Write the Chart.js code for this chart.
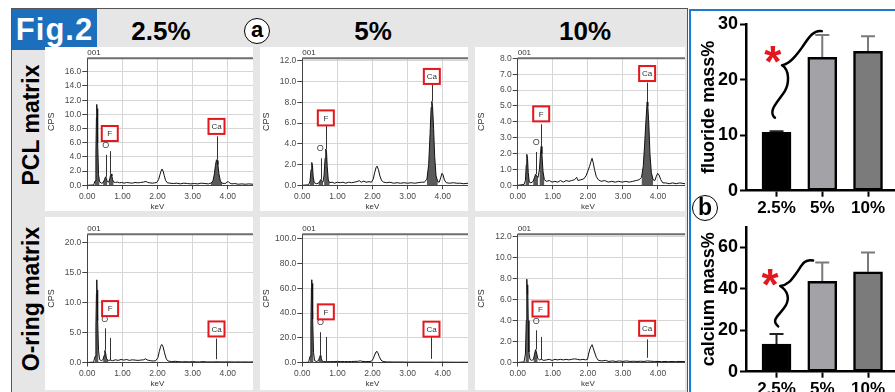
<!DOCTYPE html>
<html><head><meta charset="utf-8">
<script src="https://cdn.jsdelivr.net/npm/chart.js@4.4.1/dist/chart.umd.min.js"></script>
<style>
html,body{margin:0;padding:0;background:#fff;}
#root{position:relative;width:895px;height:392px;overflow:hidden;font-family:"Liberation Sans",Arial,sans-serif;}
.abs{position:absolute;box-sizing:border-box;}
canvas{position:absolute;display:block;}
.t{position:absolute;transform:translate(-50%,-50%);white-space:nowrap;font-weight:bold;color:#000;line-height:1;}
.circ{position:absolute;box-sizing:border-box;border:1.5px solid #000;border-radius:50%;background:#fff;text-align:center;font-weight:bold;color:#000;}
</style></head><body><div id="root">
<div class="abs" style="left:11px;top:8px;width:677px;height:400px;background:#e6e6e6;border:1.5px solid #555;border-bottom:none;"></div>
<div class="abs" style="left:689px;top:9px;width:230px;height:400px;background:#fff;border:2px solid #1f7bd1;"></div>
<div class="abs" style="left:12px;top:9px;width:85px;height:41px;background:#1b6fbd;color:#fff;font-weight:bold;font-size:31px;letter-spacing:1px;text-align:center;line-height:41px;">Fig.2</div>
<div class="t" style="left:161px;top:31px;font-size:26px;">2.5%</div>
<div class="t" style="left:373px;top:31px;font-size:26px;">5%</div>
<div class="t" style="left:585px;top:31px;font-size:26px;">10%</div>
<div class="circ" style="left:244px;top:18px;width:26px;height:26px;font-size:22px;line-height:21px;">a</div>
<div class="t" style="left:31px;top:125px;font-size:23px;transform:translate(-50%,-50%) rotate(-90deg);">PCL matrix</div>
<div class="t" style="left:31px;top:299px;font-size:23px;transform:translate(-50%,-50%) rotate(-90deg);">O-ring matrix</div>

<canvas id="s1" width="208" height="164" style="left:45px;top:47px;background:#fff"></canvas>
<canvas id="s2" width="208" height="164" style="left:260px;top:47px;background:#fff"></canvas>
<canvas id="s3" width="210" height="164" style="left:475px;top:47px;background:#fff"></canvas>
<canvas id="s4" width="208" height="173" style="left:45px;top:217px;background:#fff"></canvas>
<canvas id="s5" width="208" height="173" style="left:260px;top:217px;background:#fff"></canvas>
<canvas id="s6" width="210" height="173" style="left:475px;top:217px;background:#fff"></canvas>

<canvas id="bF" width="203" height="205" style="left:692px;top:11px;"></canvas>
<canvas id="bC" width="203" height="190" style="left:692px;top:214px;"></canvas>
<div class="circ" style="left:692px;top:195px;width:26px;height:26px;font-size:23px;line-height:22px;">b</div>
</div>
<script>
// ---------- DATA ----------
// EDS spectra: [keV, CPS]
const pcl25 = [[0,0],[0.18,0.05],[0.22,0.6],[0.245,4.5],[0.26,9.5],[0.27,11.4],[0.28,10.2],[0.29,10.8],[0.30,6.0],[0.32,1.5],[0.35,0.5],[0.40,0.3],[0.45,0.35],[0.49,0.8],[0.51,1.1],[0.525,1.2],[0.545,0.9],[0.57,0.5],[0.61,0.45],[0.64,0.9],[0.66,1.4],[0.68,1.6],[0.70,1.3],[0.72,0.8],[0.75,0.45],[0.80,0.4],[0.86,0.45],[0.92,0.35],[0.98,0.4],[1.05,0.3],[1.12,0.4],[1.20,0.35],[1.28,0.3],[1.36,0.4],[1.44,0.35],[1.52,0.4],[1.60,0.45],[1.67,0.55],[1.72,0.4],[1.78,0.35],[1.85,0.3],[1.92,0.35],[1.98,0.4],[2.03,0.8],[2.07,1.5],[2.10,2.0],[2.13,2.3],[2.16,2.0],[2.19,1.4],[2.23,0.7],[2.28,0.35],[2.35,0.3],[2.45,0.25],[2.55,0.3],[2.65,0.2],[2.75,0.3],[2.85,0.25],[2.95,0.2],[3.05,0.25],[3.15,0.2],[3.25,0.3],[3.35,0.25],[3.45,0.2],[3.52,0.3],[3.58,0.6],[3.62,1.6],[3.65,2.8],[3.68,3.6],[3.70,3.5],[3.72,2.9],[3.75,1.6],[3.79,0.6],[3.84,0.3],[3.90,0.25],[3.95,0.3],[3.99,0.5],[4.02,0.5],[4.06,0.3],[4.12,0.2],[4.20,0.25],[4.30,0.15],[4.40,0.2],[4.50,0.15],[4.60,0.2],[4.72,0.15]];
const pcl5 = [[0,0],[0.18,0.05],[0.22,0.4],[0.25,1.5],[0.27,2.2],[0.29,1.9],[0.31,0.8],[0.34,0.25],[0.40,0.15],[0.46,0.2],[0.50,0.4],[0.525,0.55],[0.55,0.4],[0.59,0.3],[0.62,1.0],[0.65,2.6],[0.67,3.5],[0.69,3.2],[0.71,1.8],[0.74,0.5],[0.78,0.25],[0.85,0.3],[0.92,0.2],[1.0,0.3],[1.08,0.25],[1.16,0.3],[1.24,0.2],[1.32,0.3],[1.4,0.25],[1.48,0.3],[1.56,0.35],[1.62,0.45],[1.68,0.3],[1.75,0.4],[1.82,0.3],[1.9,0.35],[1.97,0.3],[2.02,0.6],[2.06,1.2],[2.10,1.7],[2.13,1.85],[2.17,1.5],[2.21,0.9],[2.26,0.45],[2.32,0.3],[2.4,0.25],[2.5,0.3],[2.6,0.2],[2.7,0.25],[2.8,0.2],[2.9,0.25],[3.0,0.2],[3.1,0.25],[3.2,0.2],[3.3,0.25],[3.4,0.3],[3.48,0.3],[3.55,0.6],[3.6,2.0],[3.64,5.0],[3.67,7.5],[3.69,8.1],[3.71,7.6],[3.74,5.5],[3.77,2.8],[3.81,0.9],[3.86,0.35],[3.9,0.3],[3.94,0.7],[3.98,1.15],[4.01,1.0],[4.05,0.5],[4.1,0.25],[4.2,0.2],[4.3,0.25],[4.4,0.2],[4.5,0.2],[4.6,0.15],[4.72,0.2]];
const pcl10 = [[0,0],[0.18,0.05],[0.22,0.3],[0.245,1.3],[0.26,1.95],[0.28,1.7],[0.30,0.8],[0.33,0.2],[0.38,0.15],[0.44,0.25],[0.48,0.5],[0.51,0.7],[0.54,0.6],[0.58,0.5],[0.62,1.0],[0.65,2.0],[0.67,2.45],[0.69,2.0],[0.72,0.9],[0.76,0.35],[0.82,0.25],[0.9,0.3],[0.98,0.2],[1.06,0.25],[1.14,0.2],[1.22,0.3],[1.3,0.2],[1.38,0.3],[1.46,0.25],[1.54,0.3],[1.62,0.35],[1.68,0.5],[1.72,0.3],[1.8,0.35],[1.88,0.4],[1.95,0.6],[2.0,0.9],[2.05,1.2],[2.09,1.5],[2.12,1.7],[2.15,1.45],[2.19,1.0],[2.24,0.55],[2.3,0.35],[2.38,0.25],[2.48,0.3],[2.58,0.2],[2.68,0.25],[2.78,0.2],[2.88,0.25],[2.98,0.2],[3.08,0.25],[3.18,0.2],[3.28,0.25],[3.38,0.3],[3.46,0.35],[3.53,0.5],[3.58,1.2],[3.62,2.6],[3.66,4.2],[3.69,5.25],[3.71,5.0],[3.74,3.8],[3.77,2.0],[3.81,0.8],[3.86,0.35],[3.91,0.3],[3.95,0.55],[3.99,0.75],[4.03,0.65],[4.08,0.35],[4.14,0.15],[4.22,0.15],[4.32,0.1],[4.42,0.15],[4.52,0.1],[4.62,0.15],[4.77,0.1]];
const oring25 = [[0,0],[0.18,0.05],[0.22,1.0],[0.245,6.0],[0.26,11.5],[0.27,13.8],[0.28,11.0],[0.29,12.1],[0.30,7.0],[0.32,2.0],[0.35,0.5],[0.40,0.3],[0.45,0.5],[0.48,1.2],[0.50,2.0],[0.52,1.6],[0.55,0.6],[0.6,0.35],[0.66,0.4],[0.72,0.3],[0.8,0.45],[0.88,0.35],[0.96,0.5],[1.04,0.4],[1.12,0.5],[1.2,0.35],[1.28,0.45],[1.36,0.4],[1.44,0.35],[1.52,0.4],[1.6,0.45],[1.66,0.6],[1.72,0.4],[1.8,0.3],[1.88,0.25],[1.95,0.3],[2.01,0.8],[2.05,1.8],[2.09,2.7],[2.12,3.0],[2.16,2.6],[2.2,1.6],[2.25,0.6],[2.3,0.25],[2.4,0.15],[2.5,0.2],[2.6,0.15],[2.7,0.1],[2.8,0.15],[2.9,0.1],[3.0,0.15],[3.1,0.1],[3.2,0.1],[3.3,0.15],[3.4,0.1],[3.5,0.1],[3.6,0.1],[3.7,0.12],[3.8,0.1],[3.9,0.1],[4.0,0.1],[4.1,0.1],[4.2,0.08],[4.3,0.1],[4.4,0.08],[4.5,0.1],[4.6,0.08],[4.72,0.1]];
const oring5 = [[0,0],[0.18,0.2],[0.22,5],[0.245,30],[0.26,60],[0.27,67],[0.28,55],[0.29,64],[0.30,35],[0.32,8],[0.35,1.5],[0.40,0.8],[0.46,1.5],[0.49,4],[0.51,5.6],[0.53,4.5],[0.56,1.5],[0.6,0.8],[0.7,0.6],[0.8,0.8],[0.9,0.7],[1.0,0.9],[1.1,0.7],[1.2,0.8],[1.3,0.7],[1.4,0.8],[1.5,0.9],[1.6,1.0],[1.65,1.4],[1.7,0.9],[1.8,0.8],[1.9,0.7],[1.97,1.0],[2.02,3],[2.06,6],[2.1,8.5],[2.12,9.1],[2.15,8.0],[2.19,5],[2.24,2],[2.3,0.8],[2.4,0.5],[2.6,0.4],[2.8,0.4],[3.0,0.3],[3.2,0.3],[3.4,0.3],[3.6,0.3],[3.8,0.25],[4.0,0.3],[4.2,0.25],[4.4,0.2],[4.6,0.25],[4.72,0.2]];
const oring10 = [[0,0],[0.18,0.05],[0.22,0.8],[0.245,4.0],[0.26,7.94],[0.275,6.5],[0.285,7.4],[0.30,4.0],[0.32,1.0],[0.35,0.3],[0.40,0.2],[0.45,0.3],[0.48,0.8],[0.51,1.23],[0.54,0.9],[0.57,0.4],[0.62,0.25],[0.68,0.3],[0.74,0.2],[0.82,0.25],[0.9,0.3],[0.98,0.2],[1.06,0.3],[1.14,0.25],[1.22,0.3],[1.3,0.25],[1.38,0.3],[1.46,0.25],[1.54,0.3],[1.62,0.35],[1.7,0.3],[1.78,0.25],[1.86,0.3],[1.94,0.25],[1.99,0.3],[2.02,0.8],[2.06,1.3],[2.1,1.6],[2.12,1.7],[2.15,1.4],[2.19,1.0],[2.24,0.5],[2.3,0.2],[2.4,0.15],[2.5,0.2],[2.6,0.1],[2.7,0.15],[2.8,0.1],[2.9,0.15],[3.0,0.1],[3.1,0.15],[3.2,0.1],[3.3,0.12],[3.4,0.1],[3.5,0.12],[3.6,0.1],[3.7,0.15],[3.8,0.12],[3.9,0.1],[4.0,0.1],[4.1,0.08],[4.2,0.1],[4.3,0.08],[4.4,0.1],[4.5,0.08],[4.6,0.1],[4.77,0.08]];
// identified-peak keV ranges (shaded)
const pclPeaks = [[0.2,0.36],[0.44,0.6],[0.6,0.78],[3.5,3.88]];
const oringPeaks = [[0.2,0.34],[0.44,0.6]];
// y-axis ranges / tick steps
const spectraYMax = [17.9, 12.25, 8.0, 21.4, 103.8, 12.22];
const spectraYStep = [2, 2, 1, 5, 20, 2];
const spectraXMax = [4.72, 4.72, 4.77, 4.72, 4.72, 4.77];
// Panel b
const groups = ['2.5%', '5%', '10%'];
const fluoride = [10.5, 24.0, 25.1];
const fluorideErr = [0.2, 4.0, 2.7];
const calcium = [13.3, 43.7, 48.3];
const calciumErr = [4.9, 9.1, 9.3];

// ---------- ANNOTATION PLACEMENT (keV, CPS): [lineX, lineTop, lineBottom, labelX, labelY] ----------
const marks = [
  {o:[0.525,4.3,1.2,0.525,5.6], f:[0.66,4.8,1.6,0.64,7.3], ca:[3.69,6.9,3.6,3.68,8.3]},
  {o:[0.53,2.6,0.55,0.51,3.57], f:[0.67,5.75,3.5,0.67,6.5], ca:[3.69,9.7,8.1,3.69,10.5]},
  {o:[0.53,2.1,0.7,0.53,2.7], f:[0.67,3.84,2.45,0.67,4.5], ca:[3.69,6.47,5.25,3.69,7.04]},
  {o:[0.50,5.7,2.0,0.50,7.2], f:[0.65,4.1,0.4,0.65,9.0], ca:[3.68,4.0,0.55,3.68,5.6]},
  {o:[0.51,24.5,5.6,0.52,32], f:[0.665,20.7,0.6,0.67,41], ca:[3.68,20.4,3,3.68,27]},
  {o:[0.51,3.07,1.23,0.53,3.9], f:[0.67,2.44,0.3,0.65,5.1], ca:[3.70,2.2,0.45,3.69,3.26]}
];

Chart.defaults.font.family = '"Liberation Sans", Arial, sans-serif';
const FONT = '"Liberation Sans", Arial, sans-serif';

const specPlugin = {
  id: 'spec',
  afterDatasetsDraw(chart, args, o) {
    const {ctx, chartArea: a, scales: {x, y}} = chart;
    const m = o.m;
    ctx.save();
    ctx.strokeStyle = '#6e6e6e'; ctx.lineWidth = 2;
    ctx.beginPath(); ctx.moveTo(a.left, a.top); ctx.lineTo(a.right, a.top); ctx.stroke();
    ctx.strokeStyle = '#333'; ctx.lineWidth = 1;
    [m.o, m.f, m.ca].forEach(k => {
      const px = Math.round(x.getPixelForValue(k[0])) + 0.5;
      ctx.beginPath(); ctx.moveTo(px, y.getPixelForValue(k[1])); ctx.lineTo(px, y.getPixelForValue(k[2])); ctx.stroke();
    });
    ctx.fillStyle = '#444'; ctx.font = '9px ' + FONT; ctx.textAlign = 'center'; ctx.textBaseline = 'middle';
    ctx.fillText('O', x.getPixelForValue(m.o[3]), y.getPixelForValue(m.o[4]));
    [['F', m.f], ['Ca', m.ca]].forEach(([t, k]) => {
      const cx = x.getPixelForValue(k[3]), cy = y.getPixelForValue(k[4]);
      ctx.fillStyle = '#fff'; ctx.fillRect(cx - 8, cy - 7.5, 16, 15);
      ctx.strokeStyle = '#e3171d'; ctx.lineWidth = 2; ctx.strokeRect(cx - 8, cy - 7.5, 16, 15);
      ctx.fillStyle = '#333'; ctx.font = '8px ' + FONT; ctx.fillText(t, cx, cy + 0.5);
    });
    ctx.fillStyle = '#333'; ctx.font = '8px ' + FONT;
    ctx.textAlign = 'left'; ctx.textBaseline = 'alphabetic';
    ctx.fillText('001', a.left, a.top - 3);
    ctx.textAlign = 'center'; ctx.textBaseline = 'middle';
    ctx.fillText('keV', x.getPixelForValue(2), a.bottom + 21);
    ctx.translate(a.left - 36, (a.top + a.bottom) / 2); ctx.rotate(-Math.PI / 2);
    ctx.font = '9px ' + FONT; ctx.fillText('CPS', 0, 0);
    ctx.restore();
  }
};

function makeSpectrum(id, pts, peaks, idx, g) {
  const toXY = p => ({x: p[0], y: p[1]});
  const datasets = [{data: pts.map(toXY), borderColor: '#111', borderWidth: 1, pointRadius: 0, fill: false, tension: 0}];
  peaks.forEach(r => datasets.push({
    data: pts.filter(p => p[0] >= r[0] && p[0] <= r[1]).map(toXY),
    borderWidth: 0, borderColor: 'rgba(0,0,0,0)', backgroundColor: '#5a5a5a', pointRadius: 0, fill: 'origin', tension: 0
  }));
  new Chart(document.getElementById(id), {
    type: 'line', data: {datasets},
    options: {
      responsive: false, animation: false, devicePixelRatio: 1, events: [],
      layout: {padding: {top: g.top, left: 0, right: 0, bottom: 0}},
      plugins: {legend: {display: false}, tooltip: {enabled: false}, spec: {m: marks[idx]}},
      scales: {
        x: {type: 'linear', min: 0, max: spectraXMax[idx], afterFit: s => { s.height = g.xh; },
          ticks: {stepSize: 1, includeBounds: false, maxRotation: 0, autoSkip: false, padding: 2, color: '#4a4a4a', font: {size: 8.5}, callback: v => Number(v).toFixed(2)},
          grid: {color: '#d6d6d6', tickColor: '#444', tickLength: 4}, border: {color: '#444', width: 1}},
        y: {min: 0, max: spectraYMax[idx], afterFit: s => { s.width = g.yw; },
          ticks: {stepSize: spectraYStep[idx], includeBounds: false, autoSkip: false, padding: 1, color: '#4a4a4a', font: {size: 8.5}, callback: v => Number(v).toFixed(1)},
          grid: {color: '#d6d6d6', tickColor: '#444', tickLength: 5}, border: {color: '#444', width: 1}}
      }
    },
    plugins: [specPlugin]
  });
}

const row1 = {top: 11.3, xh: 25.7};
const row2 = {top: 17.3, xh: 27.5};
makeSpectrum('s1', pcl25, pclPeaks, 0, {...row1, yw: 42.3});
makeSpectrum('s2', pcl5, pclPeaks, 1, {...row1, yw: 42.3});
makeSpectrum('s3', pcl10, pclPeaks, 2, {...row1, yw: 42.7});
makeSpectrum('s4', oring25, oringPeaks, 3, {...row2, yw: 42.3});
makeSpectrum('s5', oring5, oringPeaks, 4, {...row2, yw: 42.3});
makeSpectrum('s6', oring10, oringPeaks, 5, {...row2, yw: 42.7});

// ---------- Panel b ----------
const barPlugin = {
  id: 'bdec',
  beforeDatasetsDraw(chart, args, o) {
    const {ctx, scales: {x, y}} = chart;
    ctx.save();
    o.errs.forEach((e, i) => {
      const px = x.getPixelForValue(i);
      const y0 = y.getPixelForValue(o.vals[i]), y1 = y.getPixelForValue(o.vals[i] + e);
      ctx.strokeStyle = i === 0 ? '#222' : '#7a7a7a'; ctx.lineWidth = 2;
      ctx.beginPath(); ctx.moveTo(px, y0); ctx.lineTo(px, y1); ctx.moveTo(px - 7, y1); ctx.lineTo(px + 7, y1); ctx.stroke();
    });
    ctx.restore();
  },
  afterDatasetsDraw(chart, args, o) {
    const {ctx, chartArea: a, scales: {x, y}} = chart;
    const P = p => ({x: x.getPixelForValue(p[0]), y: y.getPixelForValue(p[1])});
    const B = P(o.brace.b), C = P(o.brace.c), T = P(o.brace.t), S = P(o.brace.s);
    const M1 = {x: (B.x + C.x) / 2 + 8, y: (B.y + C.y) / 2};
    const M2 = {x: (C.x + T.x) / 2, y: (C.y + T.y) / 2};
    ctx.save();
    ctx.strokeStyle = '#000'; ctx.lineWidth = 2.5; ctx.lineCap = 'round'; ctx.lineJoin = 'round';
    ctx.beginPath();
    ctx.moveTo(B.x + 3, B.y + 1);
    ctx.bezierCurveTo(B.x - 5, B.y - 6, M1.x - 6, M1.y + 10, M1.x, M1.y);
    ctx.bezierCurveTo(M1.x + 4, M1.y - 7, C.x + 8, C.y + 5, C.x, C.y);
    ctx.bezierCurveTo(C.x + 8, C.y - 1, M2.x - 5, M2.y + 7, M2.x, M2.y);
    ctx.bezierCurveTo(M2.x + 5, M2.y - 7, T.x - 9, T.y - 1, T.x, T.y + 1);
    ctx.stroke();
    ctx.fillStyle = '#e3171d'; ctx.font = 'bold 44px ' + FONT;
    ctx.textAlign = 'center'; ctx.textBaseline = 'alphabetic';
    const mm = ctx.measureText('*');
    ctx.fillText('*', S.x, S.y + (mm.actualBoundingBoxAscent - mm.actualBoundingBoxDescent) / 2);
    ctx.fillStyle = '#000'; ctx.font = 'bold 18px ' + FONT; ctx.textBaseline = 'middle';
    ctx.translate(a.left - 37, (a.top + a.bottom) / 2); ctx.rotate(-Math.PI / 2);
    ctx.fillText(o.title, 0, 0);
    ctx.restore();
  }
};

function makeBars(id, vals, errs, yMax, yStep, g, title, brace) {
  new Chart(document.getElementById(id), {
    type: 'bar',
    data: {datasets: [{data: vals.map((v, i) => ({x: i, y: v})), backgroundColor: ['#000000', '#a3a3a7', '#7b7b7b'],
      borderColor: '#000', borderWidth: 2.5, borderSkipped: false, barThickness: 29}]},
    options: {
      responsive: false, animation: false, devicePixelRatio: 1, events: [],
      layout: {padding: {top: g.top, left: 0, right: 0, bottom: 0}},
      plugins: {legend: {display: false}, tooltip: {enabled: false}, bdec: {vals, errs, title, brace}},
      scales: {
        x: {type: 'linear', min: -0.667, max: 2.59, offset: false, afterFit: s => { s.height = g.xh; },
          afterBuildTicks: s => { s.ticks = groups.map((_, i) => ({value: i})); },
          ticks: {callback: v => groups[v], color: '#000', font: {size: 17, weight: 'bold'}, padding: 1, maxRotation: 0, autoSkip: false},
          grid: {display: true, drawOnChartArea: false, offset: false, tickLength: 6, tickColor: '#000', tickWidth: 2},
          border: {color: '#000', width: 2.5}},
        y: {min: 0, max: yMax, afterFit: s => { s.width = g.yw; },
          ticks: {stepSize: yStep, includeBounds: false, color: '#000', font: {size: 18, weight: 'bold'}, padding: 2},
          grid: {drawOnChartArea: false, tickLength: 6, tickColor: '#000', tickWidth: 2},
          border: {color: '#000', width: 2.5}}
      }
    },
    plugins: [barPlugin]
  });
}

makeBars('bF', fluoride, fluorideErr, 30, 10, {top: 13, xh: 25.3, yw: 54}, 'fluoride mass%',
  {b: [-0.1, 13.3], c: [0.12, 22.6], t: [0.99, 28.9], s: [-0.08, 24.5]});
makeBars('bC', calcium, calciumErr, 70, 20, {top: 12.7, xh: 32.3, yw: 54}, 'calcium mass%',
  {b: [-0.03, 22.4], c: [0.08, 41.4], t: [0.8, 54.2], s: [-0.14, 45.3]});
</script>
</body></html>
